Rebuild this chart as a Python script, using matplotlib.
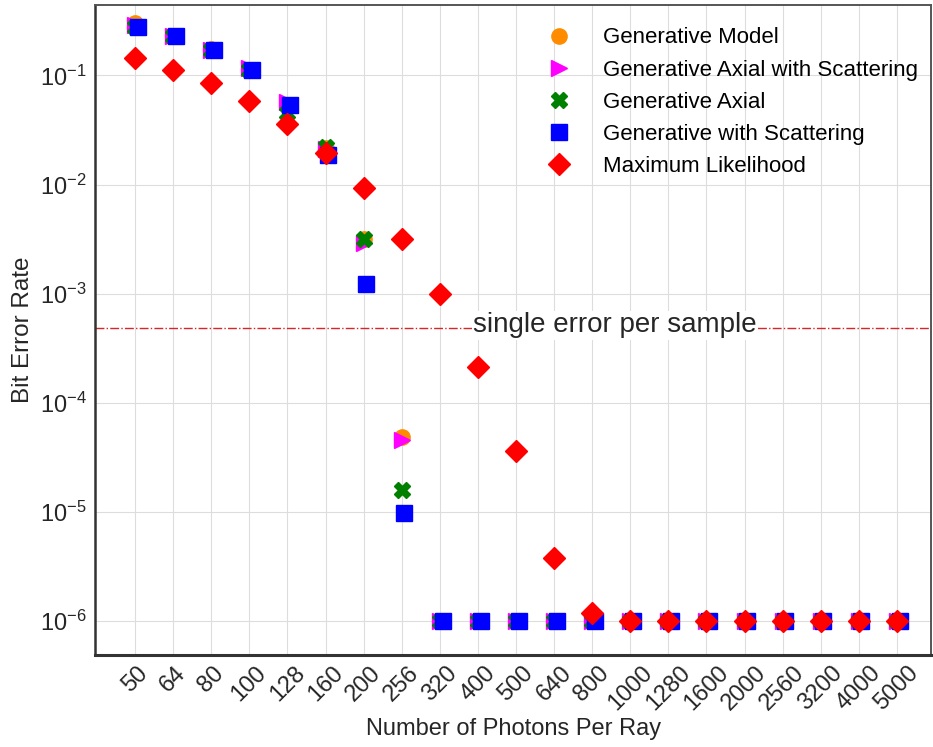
import numpy as np
import matplotlib
matplotlib.use('Agg')
import matplotlib.pyplot as plt

plt.rcParams['font.family'] = ['Liberation Sans', 'DejaVu Sans']

photons = ['50', '64', '80', '100', '128', '160', '200', '256', '320', '400',
           '500', '640', '800', '1000', '1280', '1600', '2000', '2560', '3200', '4000', '5000']

floor = [1e-6] * 13  # values reported at the floor (no errors)

gen_model = [0.30, 0.232, 0.173, 0.113, 0.054, 0.0215, 0.00315, 4.9e-5] + floor
gen_axial_scat = [0.29, 0.23, 0.17, 0.116, 0.057, 0.021, 0.0029, 4.6e-5] + floor
gen_axial = [0.28, 0.23, 0.17, 0.113, 0.045, 0.022, 0.00315, 1.58e-5] + floor
gen_scat = [0.28, 0.23, 0.17, 0.113, 0.054, 0.0185, 0.00122, 9.8e-6] + floor
max_like = [0.146, 0.113, 0.0845, 0.0578, 0.0356, 0.0193, 0.00923, 0.00315,
            9.87e-4, 2.12e-4, 3.6e-5, 3.78e-6, 1.18e-6] + [1e-6] * 8

single_error = 1 / 2048

fig = plt.figure(figsize=(9.33, 7.47), dpi=100)
ax = fig.add_axes([0.102, 0.123, 0.896, 0.870])

x = np.arange(len(photons))
ax.plot(x, gen_model, 'o', color='darkorange', ms=11, label='Generative Model', zorder=3)
ax.plot(x, gen_axial_scat, '>', color='magenta', ms=11, label='Generative Axial with Scattering', zorder=3)
ax.plot(x, gen_axial, 'X', color='green', ms=11, label='Generative Axial', zorder=3)
ax.plot(x + 0.07, gen_scat, 's', color='blue', ms=11, label='Generative with Scattering', zorder=3)
ax.plot(x, max_like, 'D', color='red', ms=11, label='Maximum Likelihood', zorder=3)

ax.axhline(single_error, color='#d62728', lw=1, ls='-.', zorder=2)
ax.text(12.6, single_error * 1.05, 'single error per sample', fontsize=20, color='#262626',
        ha='center', va='center', zorder=2.5,
        bbox=dict(facecolor='white', edgecolor='none', pad=1))

ax.set_yscale('log')
ax.set_ylim(4.9e-7, 0.44)
ax.set_xlim(-1.05, 20.9)
ax.set_xticks(x)
ax.set_xticklabels(photons, rotation=45, ha='center')
ax.tick_params(axis='x', labelsize=17, length=0, pad=5, labelcolor='#262626')
ax.tick_params(axis='y', labelsize=17, length=0, pad=6, labelcolor='#262626')
ax.minorticks_off()

ax.grid(True, color='#dddddd', lw=0.8)
ax.set_axisbelow(True)
for s in ax.spines.values():
    s.set_color('#555555')
    s.set_linewidth(1.4)
ax.spines['bottom'].set_color('#333333')
ax.spines['bottom'].set_linewidth(2.2)
ax.spines['left'].set_color('#333333')
ax.spines['left'].set_linewidth(1.8)

ax.set_xlabel('Number of Photons Per Ray', fontsize=17, color='#262626', labelpad=2)
ax.set_ylabel('Bit Error Rate', fontsize=17.5, color='#262626', labelpad=4)

ax.legend(loc='upper right', bbox_to_anchor=(1.011, 1.0), fontsize=16, frameon=False,
          handletextpad=1.0, borderaxespad=0.6, labelspacing=0.5)

fig.savefig('out.png', dpi=100)
